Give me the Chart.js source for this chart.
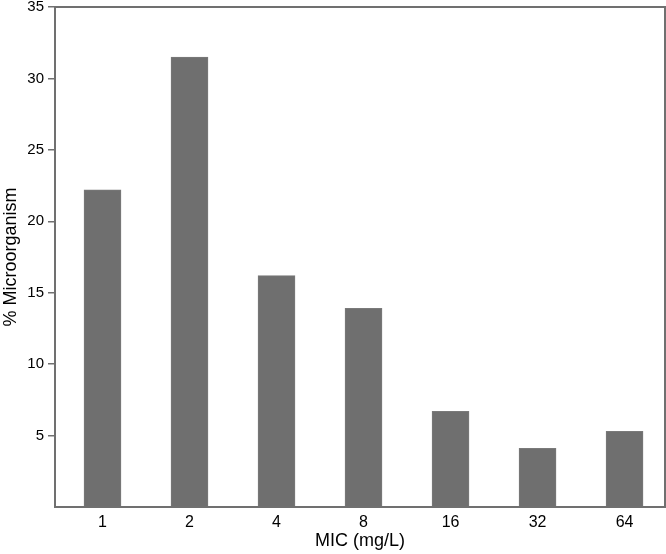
<!DOCTYPE html>
<html>
<head>
<meta charset="utf-8">
<script src="https://cdn.jsdelivr.net/npm/chart.js@4"></script>
<style>
  html, body { margin: 0; padding: 0; background: #fff; }
  #wrap { width: 666px; height: 554px; }
</style>
</head>
<body>
<div id="wrap"><canvas id="micChart" width="666" height="554"></canvas></div>
<script>
// MIC categories and % of microorganisms per category
const categories = ["1", "2", "4", "8", "16", "32", "64"];
const percentMicroorganism = [22.2, 31.5, 16.2, 13.9, 6.7, 4.1, 5.3];
const yTicks = [5, 10, 15, 20, 25, 30, 35];

const grey = "#707070";
const family = "'Liberation Sans', Arial, sans-serif";
const tickFont = { family, size: 15 };
const titleFont = { family, size: 18 };

// frame around the plot area (top + right sides too)
const frame = {
  id: "frame",
  afterDatasetsDraw(chart) {
    const { ctx, chartArea: a } = chart;
    ctx.save();
    ctx.strokeStyle = grey;
    ctx.lineWidth = 2;
    ctx.strokeRect(a.left, a.top, a.right - a.left, a.bottom - a.top);
    ctx.restore();
  }
};

new Chart(document.getElementById("micChart").getContext("2d"), {
  type: "bar",
  data: {
    datasets: [{
      data: percentMicroorganism.map((v, i) => ({ x: i + 1, y: v })),
      backgroundColor: "#6f6f6f",
      borderColor: "#7a7a7a",
      borderWidth: 1,
      barThickness: 37
    }]
  },
  options: {
    responsive: false,
    animation: false,
    events: [],
    layout: { padding: { top: 7, right: 1, left: 0, bottom: 0 } },
    plugins: { legend: { display: false }, tooltip: { enabled: false } },
    scales: {
      x: {
        type: "linear",
        min: 0.454,
        max: 7.465,
        offset: false,
        afterBuildTicks: (axis) => { axis.ticks = categories.map((_, i) => ({ value: i + 1 })); },
        afterFit: (axis) => { axis.height = 47; axis.paddingLeft = 0; axis.paddingRight = 0; },
        grid: { display: false, drawTicks: false },
        border: { display: true, color: grey, width: 2 },
        ticks: {
          color: "#000",
          font: { family, size: 16 },
          padding: 6,
          autoSkip: false,
          maxRotation: 0,
          callback: (v) => categories[Math.round(v) - 1] ?? ""
        },
        title: {
          display: true,
          text: "MIC (mg/L)",
          color: "#000",
          font: titleFont,
          padding: { top: 0, bottom: 2 }
        }
      },
      y: {
        min: 0,
        max: 35,
        afterBuildTicks: (axis) => { axis.ticks = yTicks.map(v => ({ value: v })); },
        afterFit: (axis) => { axis.width = 55; axis.paddingTop = 0; axis.paddingBottom = 0; },
        grid: { drawOnChartArea: false, drawTicks: true, tickLength: 7, color: grey, lineWidth: 1.5 },
        border: { display: true, color: grey, width: 2 },
        ticks: { color: "#000", font: tickFont, padding: 4 },
        title: {
          display: true,
          text: "% Microorganism",
          color: "#000",
          font: titleFont,
          padding: { top: 0, bottom: 0 }
        }
      }
    }
  },
  plugins: [frame]
});
</script>
</body>
</html>
